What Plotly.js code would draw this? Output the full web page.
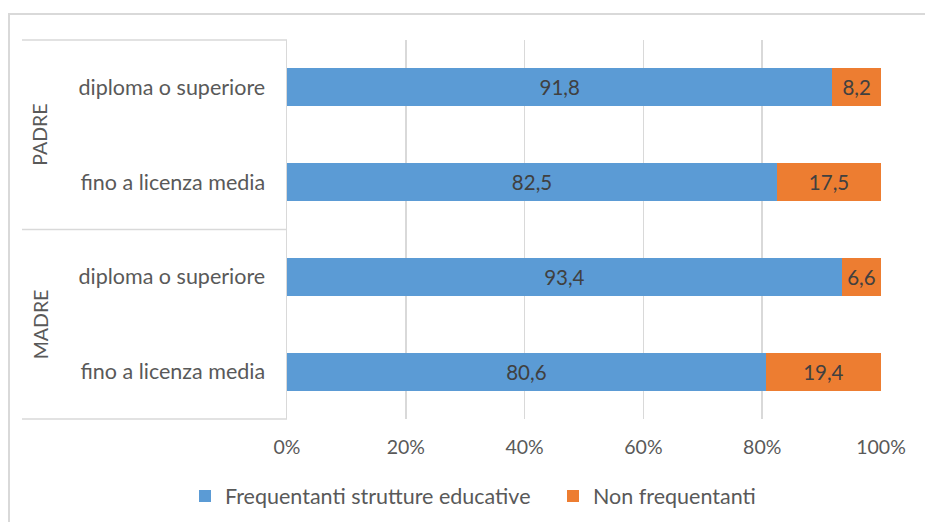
<!DOCTYPE html>
<html><head><meta charset="utf-8">
<script src="https://cdn.plot.ly/plotly-3.0.1.min.js"></script>
<style>html,body{margin:0;padding:0;background:#fff}#chart{width:925px;height:522px}</style>
</head><body><div id="chart"></div>
<script>
// categories bottom -> top
const catKeys = ['MADRE_fino', 'MADRE_diploma', 'PADRE_fino', 'PADRE_diploma'];
const catLabels = ['fino a licenza media', 'diploma o superiore', 'fino a licenza media', 'diploma o superiore'];
const groups = ['PADRE', 'MADRE'];
const groupPos = [0.75, 0.25];
const frequentanti = [80.6, 93.4, 82.5, 91.8];
const nonFrequentanti = [19.4, 6.6, 17.5, 8.2];
const seriesNames = ['Frequentanti strutture educative', 'Non frequentanti'];
const xTicks = [0, 20, 40, 60, 80, 100];

const FONT = 'Lato, "Liberation Sans", sans-serif';
const grid = '#D9D9D9';
const L = 287, R = 881, T = 40, B = 419;
const W = 925, H = 522;
const px = x => (x - L) / (R - L);
const py = y => (B - y) / (B - T);

const traces = [
  {type:'bar', orientation:'h', name:seriesNames[0], y:catKeys, x:frequentanti, legend:'legend',
   marker:{color:'#5B9BD5'}, texttemplate:'%{x:.1f}', textposition:'inside',
   insidetextanchor:'middle', textfont:{family:FONT, size:20.5, color:'#404040'}, hoverinfo:'x'},
  {type:'bar', orientation:'h', name:seriesNames[1], y:catKeys, x:nonFrequentanti, legend:'legend2',
   marker:{color:'#ED7D31'}, texttemplate:'%{x:.1f}', textposition:'inside',
   insidetextanchor:'middle', textfont:{family:FONT, size:20.5, color:'#404040'}, hoverinfo:'x'}
];

const shapes = [
  // outer chart border
  {type:'rect', xref:'paper', yref:'paper', x0:px(9), x1:px(940), y0:py(540), y1:py(14),
   line:{color:'#D9D9D9', width:2}, layer:'below'},
  // category area lines
  {type:'line', xref:'paper', yref:'paper', x0:px(22), x1:0, y0:1, y1:1, line:{color:grid, width:1.5}},
  {type:'line', xref:'paper', yref:'paper', x0:px(22), x1:0, y0:0.5, y1:0.5, line:{color:grid, width:1.5}},
  {type:'line', xref:'paper', yref:'paper', x0:px(22), x1:0, y0:0, y1:0, line:{color:grid, width:1.5}}
];

const annotations = groups.map((g, i) => ({
  text:g, xref:'paper', yref:'paper', x:px(40), y:groupPos[i], textangle:-90,
  showarrow:false, font:{family:FONT, size:19.5, color:'#595959'}, xanchor:'center', yanchor:'middle'
}));

const legendFont = {family:FONT, size:21.5, color:'#595959'};
const cy = (522 - 496) / 522;
const layout = {
  width:W, height:H, barmode:'stack', bargap:0.6,
  separators:',.',
  margin:{l:L, r:W-R, t:T, b:H-B, pad:0, autoexpand:false},
  paper_bgcolor:'#fff', plot_bgcolor:'#fff',
  font:{family:FONT, color:'#595959', size:20},
  showlegend:true,
  legend:{orientation:'h', xref:'container', yref:'container', x:185/W, y:cy, xanchor:'left', yanchor:'middle',
          font:legendFont, itemwidth:30},
  legend2:{orientation:'h', xref:'container', yref:'container', x:553/W, y:cy, xanchor:'left', yanchor:'middle',
          font:legendFont, itemwidth:30},
  xaxis:{range:[0,100], tickvals:xTicks, ticktext:xTicks.map(v=>v+'%'), showgrid:true, gridcolor:grid, gridwidth:1.5,
         zeroline:false, showline:false, ticks:'', ticklabelstandoff:14, fixedrange:true,
         tickfont:{family:FONT, size:19.5, color:'#595959'}},
  yaxis:{type:'category', categoryorder:'array', categoryarray:catKeys, tickvals:catKeys, ticktext:catLabels,
         showline:true, linecolor:grid, linewidth:1.5, showgrid:false, zeroline:false, ticks:'',
         ticklabelstandoff:16, fixedrange:true, tickfont:{family:FONT, size:21.5, color:'#595959'}},
  shapes:shapes, annotations:annotations
};

Plotly.newPlot('chart', traces, layout, {displayModeBar:false, staticPlot:true});
</script></body></html>
